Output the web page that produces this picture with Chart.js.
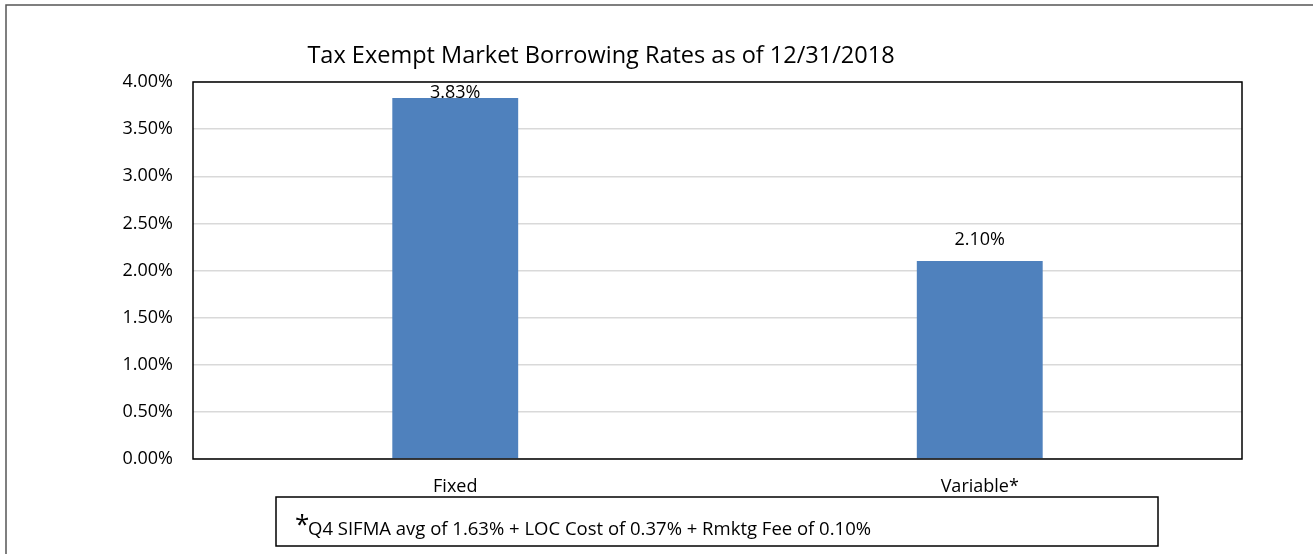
<!DOCTYPE html>
<html>
<head>
<meta charset="utf-8">
<script src="https://cdn.jsdelivr.net/npm/chart.js@4"></script>
<style>
    html, body { margin: 0; padding: 0; background: #fff; }
    #wrap { width: 1313px; height: 554px; position: relative; }
</style>
</head>
<body>
<div id="wrap"><canvas id="rates-chart"></canvas></div>
<script>
// Chart data
const categories = ['Fixed', 'Variable*'];
const rates = [3.83, 2.10];
const yTicks = [0, 0.5, 1, 1.5, 2, 2.5, 3, 3.5, 4];
const chartTitle = 'Tax Exempt Market Borrowing Rates as of 12/31/2018';
const footnote = 'Q4 SIFMA avg of 1.63% + LOC Cost of 0.37% + Rmktg Fee of 0.10%';

const FONT = 'Open Sans, Calibri, sans-serif';

// Title, footnote box, plot frame and outer border
const decorPlugin = {
    id: 'decor',
    afterDraw(chart) {
        const ctx = chart.ctx;
        const area = chart.chartArea;
        ctx.save();

        // outer border (cropped at right/bottom)
        ctx.strokeStyle = '#555';
        ctx.lineWidth = 1.5;
        ctx.strokeRect(6, 5, 1400, 700);

        // plot frame
        ctx.strokeStyle = '#000';
        ctx.lineWidth = 1.5;
        ctx.strokeRect(area.left, area.top, area.right - area.left, area.bottom - area.top);

        // title
        ctx.fillStyle = '#000';
        ctx.font = '23.5px ' + FONT;
        ctx.textAlign = 'center';
        ctx.textBaseline = 'middle';
        ctx.fillText(chartTitle, 601, 56);

        // footnote box
        ctx.lineWidth = 1.5;
        ctx.strokeRect(276, 497, 882, 49);
        ctx.textAlign = 'left';
        ctx.font = '26px ' + FONT;
        ctx.fillText('*', 295, 526);
        ctx.font = '18.5px ' + FONT;
        ctx.fillText(footnote, 308, 530);

        // value labels
        const meta = chart.getDatasetMeta(0);
        ctx.font = '18px ' + FONT;
        ctx.textAlign = 'center';
        meta.data.forEach((bar, i) => {
            const y = Math.max(bar.y - 21, area.top + 11);
            ctx.fillText(rates[i].toFixed(2) + '%', bar.x, y);
        });
        ctx.restore();
    }
};

new Chart(document.getElementById('rates-chart'), {
    type: 'bar',
    data: {
        labels: categories,
        datasets: [{
            data: rates,
            backgroundColor: '#4F81BD',
            borderWidth: 0,
            categoryPercentage: 1,
            barPercentage: 0.24
        }]
    },
    options: {
        responsive: true,
        maintainAspectRatio: false,
        animation: false,
        layout: { padding: { top: 82, right: 71, left: 0, bottom: 0 } },
        scales: {
            x: {
                grid: { display: false, drawTicks: false },
                border: { display: false },
                ticks: { color: '#000', font: { family: FONT, size: 18 }, padding: 17 },
                afterFit(scale) { scale.height = 95; }
            },
            y: {
                min: 0,
                max: 4,
                afterBuildTicks(scale) { scale.ticks = yTicks.map(v => ({ value: v })); },
                grid: { color: '#d9d9d9', lineWidth: 1.5, drawTicks: false },
                border: { display: false },
                ticks: {
                    color: '#000',
                    font: { family: FONT, size: 18 },
                    padding: 20,
                    callback: v => v.toFixed(2) + '%'
                },
                afterFit(scale) { scale.width = 193; }
            }
        },
        plugins: {
            legend: { display: false },
            tooltip: { enabled: false }
        }
    },
    plugins: [decorPlugin]
});
</script>
</body>
</html>
